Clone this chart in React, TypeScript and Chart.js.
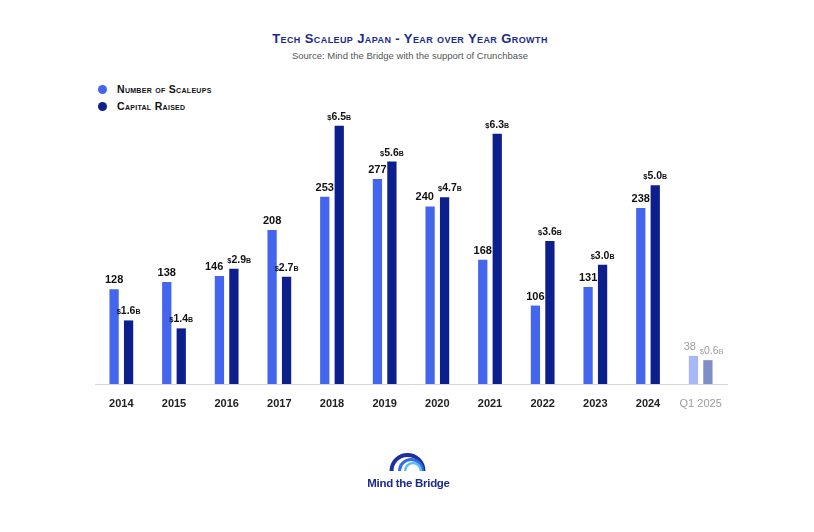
import { useEffect, useRef } from 'react';
import { Chart, registerables } from 'chart.js';

Chart.register(...registerables);

// ---- data ----
const categories = ['2014', '2015', '2016', '2017', '2018', '2019', '2020', '2021', '2022', '2023', '2024', 'Q1 2025'];
const scaleups = [128, 138, 146, 208, 253, 277, 240, 168, 106, 131, 238, 38];
const capitalRaised = [1.6, 1.4, 2.9, 2.7, 6.5, 5.6, 4.7, 6.3, 3.6, 3.0, 5.0, 0.6];

const LIGHT = '#4466ee';
const DARK = '#0c1f8c';
const LIGHT_FADED = '#a8b8f6';
const DARK_FADED = '#7f8ec8';
const FONT = "'Liberation Sans', Arial, Helvetica, sans-serif";
const lastIdx = categories.length - 1;

// labels above the bars; the pair is pushed apart when the two would collide
const valueLabels = {
  id: 'valueLabels',
  afterDatasetsDraw(chart: any) {
    const { ctx } = chart;
    const m0 = chart.getDatasetMeta(0);
    const m1 = chart.getDatasetMeta(1);
    ctx.save();
    ctx.textBaseline = 'alphabetic';
    ctx.textAlign = 'left';

    categories.forEach((_, i) => {
      const faded = i === lastIdx;
      const weight = faded ? 'normal' : 'bold';
      ctx.fillStyle = faded ? '#9c9c9c' : '#111111';

      const numText = String(scaleups[i]);
      const numFont = `${weight} 11px ${FONT}`;
      ctx.font = numFont;
      const w0 = ctx.measureText(numText).width;

      const parts: [string, number][] = [
        ['$', 7.5],
        [capitalRaised[i].toFixed(1), 10.5],
        ['B', 7],
      ];
      let w1 = 0;
      parts.forEach(([t, s]) => {
        ctx.font = `${weight} ${s}px ${FONT}`;
        w1 += ctx.measureText(t).width;
      });

      const b0 = m0.data[i];
      const b1 = m1.data[i];
      const y0 = b0.y - 6;
      const y1 = b1.y - 6;
      let x0 = b0.x - w0 / 2;
      let x1 = b1.x - w1 / 2;
      if (Math.abs(y0 - y1) < 13) {
        const overlap = x0 + w0 + 4 - x1;
        if (overlap > 0) {
          x0 -= overlap / 2;
          x1 += overlap / 2;
        }
      }

      ctx.font = numFont;
      ctx.fillText(numText, x0, y0);
      parts.forEach(([t, s]) => {
        ctx.font = `${weight} ${s}px ${FONT}`;
        ctx.fillText(t, x1, y1);
        x1 += ctx.measureText(t).width;
      });
    });
    ctx.restore();
  },
};

function ScaleupChart() {
  const canvasRef = useRef<HTMLCanvasElement>(null);
  const chartRef = useRef<Chart | null>(null);

  useEffect(() => {
    if (!canvasRef.current) return;
    if (chartRef.current) chartRef.current.destroy();

    chartRef.current = new Chart(canvasRef.current, {
      type: 'bar',
      data: {
        labels: categories,
        datasets: [
          {
            label: 'Number of Scaleups',
            data: scaleups,
            yAxisID: 'y',
            backgroundColor: scaleups.map((_, i) => (i === lastIdx ? LIGHT_FADED : LIGHT)),
            categoryPercentage: 0.55,
            barPercentage: 0.64,
          },
          {
            label: 'Capital Raised',
            data: capitalRaised,
            yAxisID: 'y1',
            backgroundColor: capitalRaised.map((_, i) => (i === lastIdx ? DARK_FADED : DARK)),
            categoryPercentage: 0.55,
            barPercentage: 0.64,
          },
        ],
      },
      options: {
        responsive: true,
        maintainAspectRatio: false,
        animation: false,
        layout: { padding: { left: 95, right: 87, top: 88, bottom: 0 } },
        scales: {
          x: {
            grid: { display: false },
            border: { display: true, color: '#d6d6d6', width: 1 },
            afterFit: (scale: any) => { scale.height = 148; },
            ticks: {
              padding: 5,
              maxRotation: 0,
              color: (c: any) => (c.index === lastIdx ? '#9c9c9c' : '#222222'),
              font: (c: any) => ({ family: FONT, size: 11, weight: c.index === lastIdx ? 'normal' : 'bold' }),
            },
          },
          y: { display: false, min: 0, max: 400 },
          y1: { display: false, min: 0, max: 7.45 },
        },
        plugins: {
          legend: { display: false },
          tooltip: { enabled: false },
        },
      },
      plugins: [valueLabels],
    });

    return () => { chartRef.current?.destroy(); };
  }, []);

  return (
    <div style={{ position: 'absolute', left: 0, top: 0, width: 814, height: 532 }}>
      <canvas ref={canvasRef} />
    </div>
  );
}

function Logo() {
  return (
    <>
      <svg
        width="50"
        height="25"
        viewBox="0 0 50 25"
        style={{ position: 'absolute', left: 385, top: 448 }}
      >
        <path d="M6.5 23 A16 16 0 0 1 38.5 23" fill="none" stroke="#1e2f9e" strokeWidth="4" />
        <path d="M14.5 23 A11.5 11.5 0 0 1 37.5 23" fill="none" stroke="#2f6fe0" strokeWidth="3" />
        <path d="M20 23 A8 8 0 0 1 36 23" fill="none" stroke="#5cbdf2" strokeWidth="2.5" />
      </svg>
      <div
        style={{
          position: 'absolute',
          left: 358,
          top: 476,
          width: 101,
          textAlign: 'center',
          fontFamily: FONT,
          fontWeight: 'bold',
          fontSize: 11.5,
          color: '#1e2a8e',
          letterSpacing: -0.3,
          lineHeight: '14px',
        }}
      >
        Mind the Bridge
      </div>
    </>
  );
}

export default function App() {
  const legendItem = (color: string, text: string, top: number) => (
    <div style={{ position: 'absolute', left: 98, top, display: 'flex', alignItems: 'center' }}>
      <span style={{ width: 9, height: 9, borderRadius: '50%', background: color, display: 'inline-block' }} />
      <span
        style={{
          marginLeft: 10,
          fontFamily: FONT,
          fontWeight: 'bold',
          fontSize: 10.5,
          fontVariant: 'small-caps',
          color: '#111',
          letterSpacing: 0.3,
        }}
      >
        {text}
      </span>
    </div>
  );

  return (
    <div style={{ position: 'fixed', left: 0, top: 0, width: 814, height: 532, background: '#ffffff', overflow: 'hidden' }}>
      <div style={{ position: 'absolute', left: 0, top: 31, width: 820, textAlign: 'center' }}>
        <div
          style={{
            fontFamily: FONT,
            fontWeight: 'bold',
            fontSize: 13,
            fontVariant: 'small-caps',
            color: '#1b2a8c',
            letterSpacing: 0.4,
            lineHeight: '16px',
          }}
        >
          Tech Scaleup Japan - Year over Year Growth
        </div>
        <div style={{ fontFamily: FONT, fontSize: 9.5, color: '#555555', marginTop: 3, lineHeight: '12px' }}>
          Source: Mind the Bridge with the support of Crunchbase
        </div>
      </div>
      {legendItem(LIGHT, 'Number of Scaleups', 83)}
      {legendItem(DARK, 'Capital Raised', 100)}
      <ScaleupChart />
      <Logo />
    </div>
  );
}
